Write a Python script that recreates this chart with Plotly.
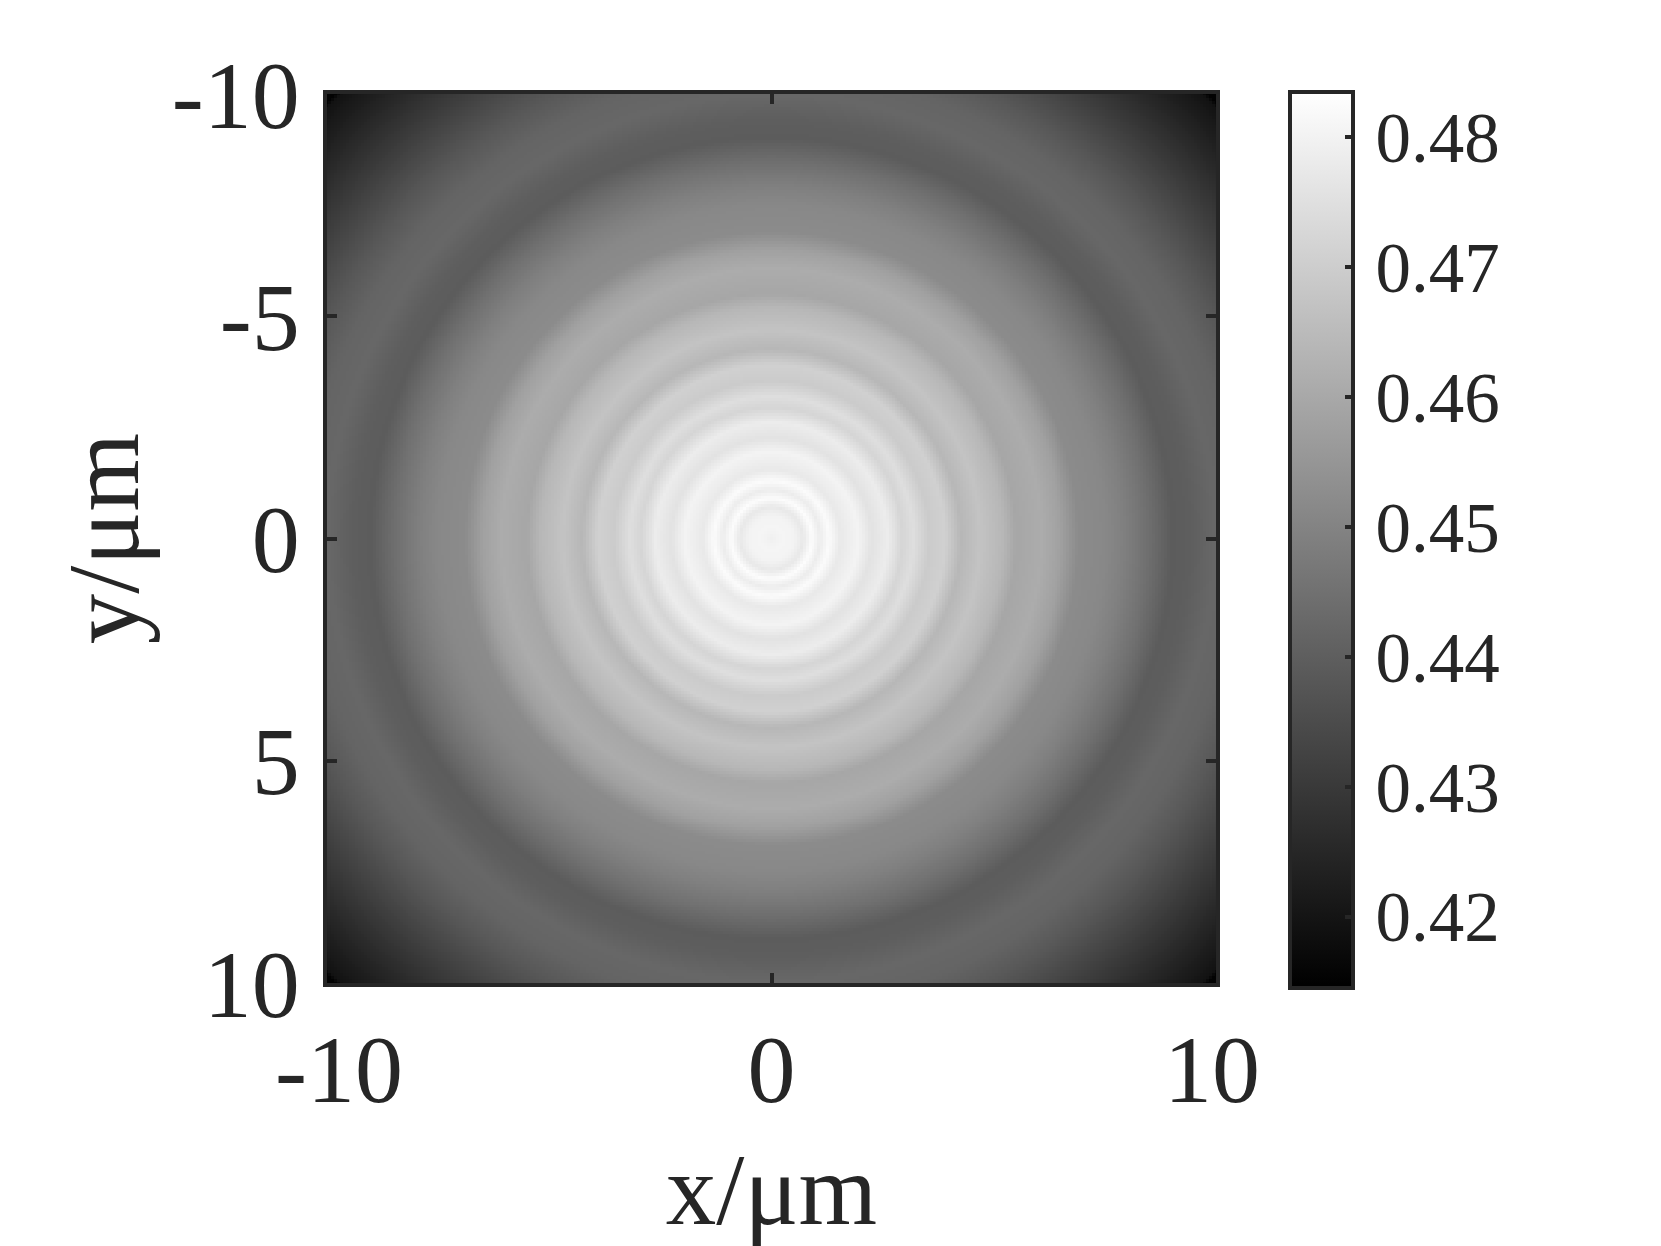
import numpy as np
import plotly.graph_objects as go

# Radial intensity profile (distance from centre in um, intensity)
radius_um = [0.0, 0.25, 0.5, 0.7, 0.9, 1.1, 1.3, 1.55, 1.95, 2.25, 2.6, 2.95, 3.2, 3.55, 3.9, 4.25, 4.7, 5.2, 5.5,
             6.07, 6.5, 6.9, 7.5, 7.9, 8.45, 9.0, 9.4, 9.95, 10.5, 11.1, 12.2, 13.2, 13.9, 14.0]
intensity = [.4794, .4808, .4803, .4773, .4827, .4784, .4824, .4775, .4803, .4757, .4784, .4721, .4746, .4694, .4708,
             .4640, .4673, .4640, .4595, .4610, .4580, .4522, .4513, .4491, .4448, .4394, .4399, .4424, .4416, .4383,
             .4307, .4240, .4194, .4150]
x_ticks = [-10, 0, 10]
x_labels = ["\u00a0-10", "0", "10\u200a"]
y_ticks = [-10, -5, 0, 5, 10]
y_labels = ["-10", "-5", "0", "5", "10"]
cb_ticks = [0.42, 0.43, 0.44, 0.45, 0.46, 0.47, 0.48]
cb_labels = ["\u200a0.42", "\u200a0.43", "\u200a0.44", "\u200a0.45", "\u200a0.46", "\u200a0.47", "\u200a0.48"]
z_min, z_max = 0.4145, 0.4835

grid = np.linspace(-10, 10, 301)
xx, yy = np.meshgrid(grid, grid)
z = np.interp(np.hypot(xx, yy), radius_um, intensity)

INK = "#262626"
FONT = "Liberation Serif"

fig = go.Figure(go.Heatmap(
    x=grid, y=grid, z=z, zmin=z_min, zmax=z_max,
    colorscale=[[0, "#000000"], [1, "#ffffff"]],
    colorbar=dict(
        x=1.0832, xanchor="left", xpad=0, y=0.4983, yanchor="middle", ypad=0, len=1.0079,
        thickness=63, thicknessmode="pixels",
        outlinewidth=4, outlinecolor=INK,
        tickmode="array", tickvals=cb_ticks, ticktext=cb_labels,
        ticks="inside", ticklen=10, tickwidth=4, tickcolor=INK,
        tickfont=dict(family=FONT, size=71, color=INK),
    ),
))
axis = dict(
    mirror="ticks", showline=True, linewidth=4, linecolor=INK,
    ticks="inside", ticklen=10, tickwidth=4, tickcolor=INK,
    showgrid=False, zeroline=False, tickfont=dict(family=FONT, size=96, color=INK),
)
fig.update_layout(
    width=1661, height=1246, autosize=False,
    margin=dict(l=319, r=453, t=86, b=271),
    paper_bgcolor="white", plot_bgcolor="white",
    font=dict(family=FONT, color=INK),
    xaxis=dict(axis, range=[-10, 10], tickmode="array", tickvals=x_ticks, ticktext=x_labels,
               title=dict(text="x/μm", font=dict(family=FONT, size=101, color=INK), standoff=32)),
    yaxis=dict(axis, range=[10, -10], tickmode="array", tickvals=y_ticks, ticktext=y_labels,
               ticklabelstandoff=4,
               title=dict(text="y/μm", font=dict(family=FONT, size=101, color=INK), standoff=0)),
)
fig.write_html("out.html")
